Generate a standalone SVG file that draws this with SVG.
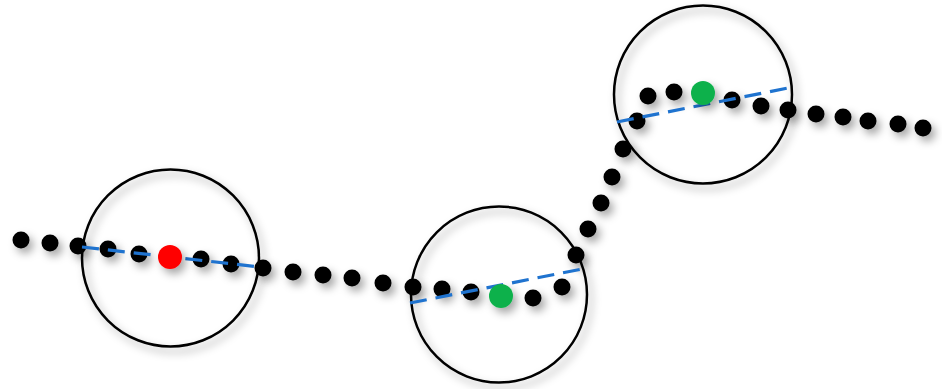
<svg xmlns="http://www.w3.org/2000/svg" width="942" height="389" viewBox="0 0 942 389">
<defs>
<filter id="sh" x="-50%" y="-50%" width="200%" height="200%">
<feDropShadow dx="4" dy="5" stdDeviation="4" flood-color="#000" flood-opacity="0.35"/>
</filter>
</defs>
<style>
.ring{fill:none;stroke:#000;stroke-width:2.5;filter:url(#sh)}
.pt{fill:#000}
.dash{stroke:#1f73cf;stroke-width:3.2;stroke-dasharray:17 9;fill:none}
.red{fill:#ff0000}
.green{fill:#10b14c}
</style>
<rect width="942" height="389" fill="#fff"/>
<g id="window-1">
<circle class="ring" cx="170.5" cy="258" r="88.5"/>
</g>
<g id="window-2">
<circle class="ring" cx="499" cy="294.5" r="88"/>
</g>
<g id="window-3">
<circle class="ring" cx="703" cy="94.5" r="89"/>
</g>
<g id="trajectory" filter="url(#sh)">
<circle class="pt" cx="21" cy="240" r="8.5"/>
<circle class="pt" cx="50" cy="243" r="8.5"/>
<circle class="pt" cx="78" cy="246" r="8.5"/>
<circle class="pt" cx="108" cy="249" r="8.5"/>
<circle class="pt" cx="139" cy="254" r="8.5"/>
<circle class="pt" cx="201" cy="259" r="8.5"/>
<circle class="pt" cx="231" cy="264" r="8.5"/>
<circle class="pt" cx="263" cy="268" r="8.5"/>
<circle class="pt" cx="293" cy="272" r="8.5"/>
<circle class="pt" cx="323" cy="275" r="8.5"/>
<circle class="pt" cx="352" cy="278" r="8.5"/>
<circle class="pt" cx="383" cy="283" r="8.5"/>
<circle class="pt" cx="413" cy="287" r="8.5"/>
<circle class="pt" cx="442" cy="289" r="8.5"/>
<circle class="pt" cx="471" cy="292" r="8.5"/>
<circle class="pt" cx="533" cy="298" r="8.5"/>
<circle class="pt" cx="562" cy="287" r="8.5"/>
<circle class="pt" cx="576" cy="255" r="8.5"/>
<circle class="pt" cx="588" cy="229" r="8.5"/>
<circle class="pt" cx="601" cy="203" r="8.5"/>
<circle class="pt" cx="612" cy="177" r="8.5"/>
<circle class="pt" cx="623" cy="149" r="8.5"/>
<circle class="pt" cx="637" cy="121" r="8.5"/>
<circle class="pt" cx="648" cy="96" r="8.5"/>
<circle class="pt" cx="674" cy="92" r="8.5"/>
<circle class="pt" cx="732" cy="100" r="8.5"/>
<circle class="pt" cx="761" cy="106" r="8.5"/>
<circle class="pt" cx="788" cy="110" r="8.5"/>
<circle class="pt" cx="816" cy="114" r="8.5"/>
<circle class="pt" cx="843" cy="117" r="8.5"/>
<circle class="pt" cx="868" cy="121" r="8.5"/>
<circle class="pt" cx="898" cy="124" r="8.5"/>
<circle class="pt" cx="923" cy="128" r="8.5"/>
</g>
<g id="connectors">
<line class="dash" x1="82" y1="247" x2="260" y2="267"/>
<line class="dash" x1="410" y1="303" x2="582" y2="269"/>
<line class="dash" x1="617" y1="122" x2="788" y2="88"/>
</g>
<g id="centers" filter="url(#sh)">
<circle class="red" cx="170" cy="257" r="12"/>
<circle class="green" cx="501" cy="296" r="12"/>
<circle class="green" cx="703" cy="93" r="12"/>
</g>
</svg>
